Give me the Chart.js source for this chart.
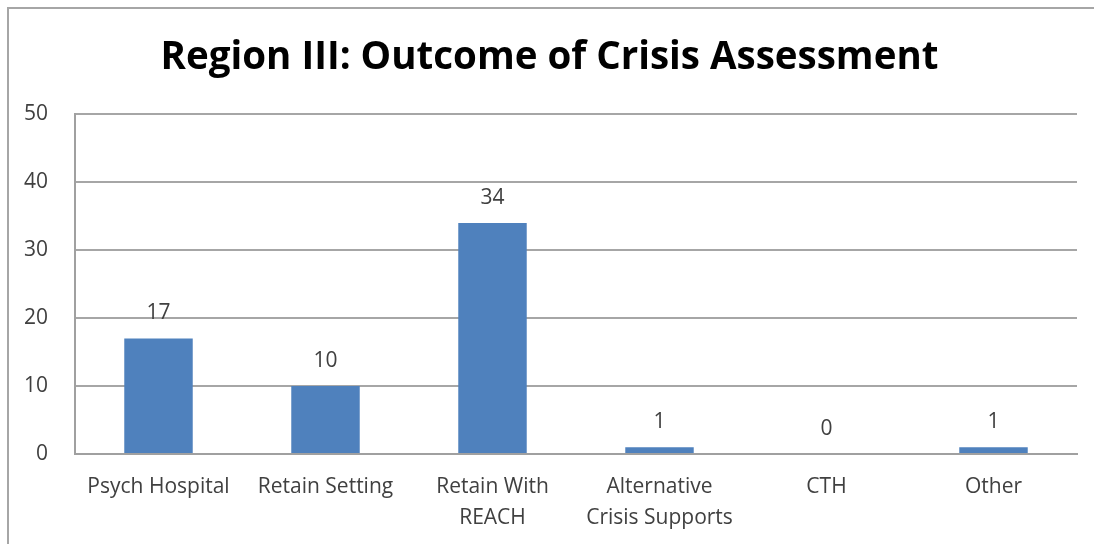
<!DOCTYPE html>
<html>
<head>
<meta charset="utf-8">
<script src="https://cdn.jsdelivr.net/npm/chart.js@4/dist/chart.umd.min.js"></script>
<style>
  html, body { margin: 0; padding: 0; background: #fff; }
  #wrap { position: relative; width: 1094px; height: 544px; overflow: hidden; }
  #frame {
    position: absolute; left: 7px; top: 7px; width: 1100px; height: 560px;
    border-left: 2px solid #a6a6a6; border-top: 2px solid #a6a6a6;
    box-sizing: border-box; pointer-events: none;
  }
  #outcomeChart { position: absolute; left: 0; top: 0; }
</style>
</head>
<body>
<div id="wrap">
  <canvas id="outcomeChart" width="1094" height="544"></canvas>
  <div id="frame"></div>
</div>
<script>
const categories = [
  "Psych Hospital",
  "Retain Setting",
  ["Retain With", "REACH"],
  ["Alternative", "Crisis Supports"],
  "CTH",
  "Other"
];

const outcomeCounts = [17, 10, 34, 1, 0, 1];

const yTicks = [0, 10, 20, 30, 40, 50];

const textFont = "'Open Sans', 'Liberation Sans', sans-serif";

// value labels above each bar
const barValues = {
  id: "barValues",
  afterDatasetsDraw(chart) {
    const ctx = chart.ctx;
    const meta = chart.getDatasetMeta(0);
    ctx.save();
    ctx.font = "21px " + textFont;
    ctx.fillStyle = "#404040";
    ctx.textAlign = "center";
    ctx.textBaseline = "middle";
    meta.data.forEach(function (bar, i) {
      ctx.fillText(String(outcomeCounts[i]), bar.x, bar.y - 25);
    });
    ctx.restore();
  }
};

const outcomeCtx =
document.getElementById(
"outcomeChart"
);

new Chart(outcomeCtx, {

    type: "bar",

    data: {
        labels: categories,
        datasets: [
            {
                data: outcomeCounts,
                backgroundColor: "#4f81bd",
                borderWidth: 0,
                categoryPercentage: 1,
                barPercentage: 0.41
            }
        ]
    },

    options: {
        responsive: false,
        animation: false,
        devicePixelRatio: 1,
        layout: {
            padding: { left: 22, right: 17, top: 0, bottom: 0 }
        },
        plugins: {
            legend: { display: false },
            tooltip: { enabled: false },
            title: {
                display: true,
                text: "Region III: Outcome of Crisis Assessment",
                color: "#000",
                font: { family: textFont, size: 38.5, weight: "bold", lineHeight: 1.2 },
                padding: { top: 35, bottom: 33 }
            }
        },
        scales: {
            x: {
                grid: { display: false, drawTicks: false },
                border: { display: true, color: "#a0a0a0", width: 2 },
                ticks: {
                    color: "#404040",
                    font: { family: textFont, size: 21, lineHeight: 1.45 },
                    padding: 18,
                    maxRotation: 0,
                    autoSkip: false
                },
                afterFit(scale) { scale.height = 90; }
            },
            y: {
                min: 0,
                max: 50,
                afterBuildTicks(scale) {
                    scale.ticks = yTicks.map(v => ({ value: v }));
                },
                grid: { color: "#a6a6a6", lineWidth: 2, drawTicks: false },
                border: { display: true, color: "#a0a0a0", width: 2 },
                ticks: {
                    color: "#404040",
                    font: { family: textFont, size: 21 },
                    padding: 27
                },
                afterFit(scale) { scale.width = 53; }
            }
        }
    },

    plugins: [barValues]

});
</script>
</body>
</html>
